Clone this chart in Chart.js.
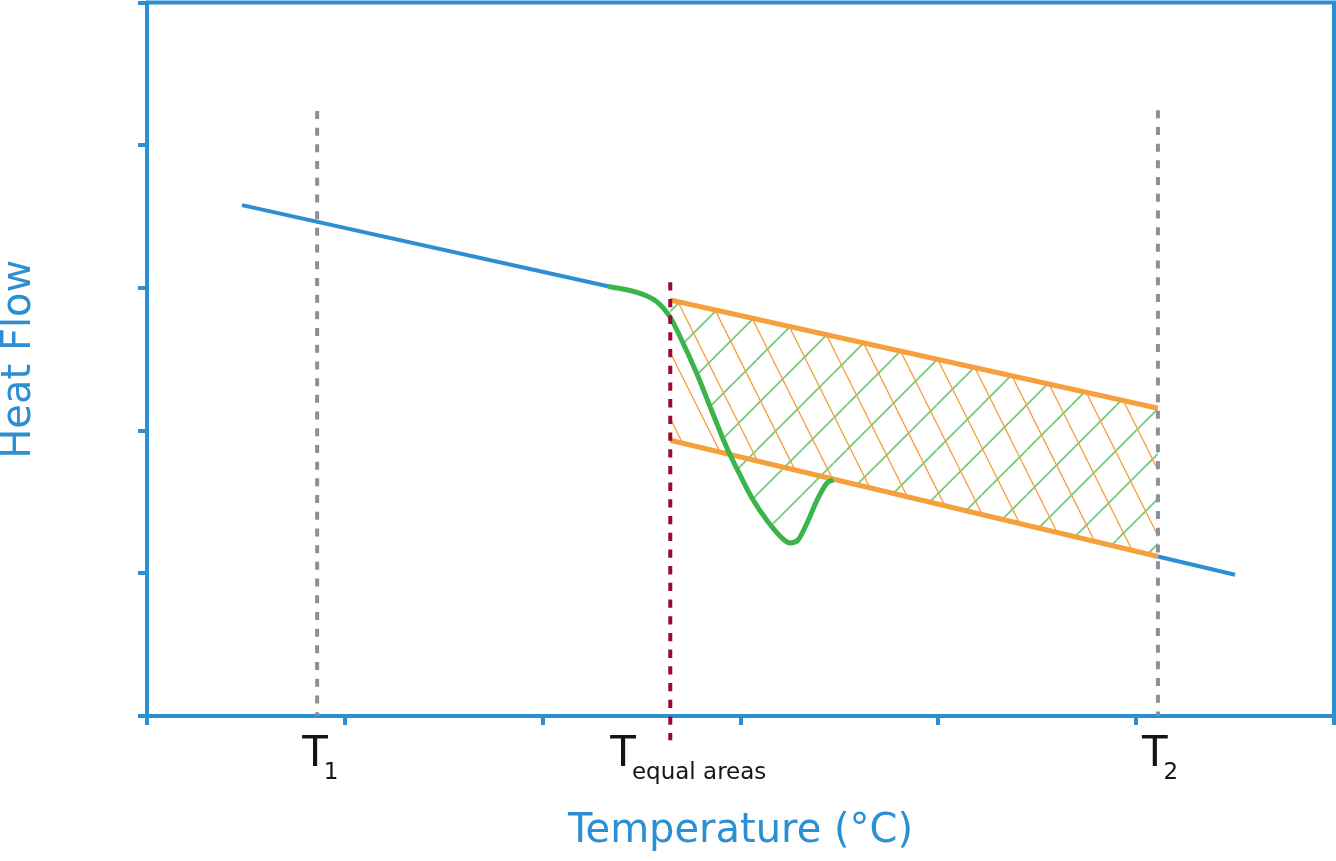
<!DOCTYPE html>
<html>
<head>
<meta charset="utf-8">
<script src="https://cdn.jsdelivr.net/npm/chart.js@4.4.1/dist/chart.umd.min.js"></script>
<style>
  html, body { margin: 0; padding: 0; background: #fff; }
  #wrap { width: 1336px; height: 861px; }
</style>
</head>
<body>
<div id="wrap"><canvas id="dscChart"></canvas></div>
<script>
// 基线（转变前）
const baseBeforeX = [9.6, 46.6];
const baseBeforeY = [71.6, 60.24];
// 基线（转变后）
const baseAfterX = [102.2, 110.0];
const baseAfterY = [22.35, 19.8];
// 外推基线
const extBeforeX = [52.9, 102.2];
const extBeforeY = [58.3, 43.13];
const extAfterX = [52.9, 102.2];
const extAfterY = [38.64, 22.35];
// 实测曲线
const curveX = [46.6, 49.84, 51.53, 52.87, 53.88, 55.6, 57.12, 58.63, 59.95, 61.16, 62.68, 64.3, 65.01, 65.82, 66.73, 67.74, 68.75, 69.38];
const curveY = [60.24, 59.24, 58.07, 55.92, 53.19, 47.93, 42.68, 37.56, 33.78, 30.55, 27.4, 24.81, 24.25, 24.67, 27.05, 30.27, 32.66, 33.08];
// 标记温度
const markerTemps = [17.2, 52.9, 102.2];
const markerTop = [84.8, 60.8, 84.9];
const markerBottom = [0, -3.4, 0];
const markerSubs = ['1', 'equal areas', '2'];

const BLUE = '#2b8fd1';
const GREEN = '#3bb44a';
const ORANGE = '#f6a03d';
const RED = '#9c0a34';
const GRAY = '#8c8e9b';

function pts(xs, ys) {
    return xs.map((x, i) => ({ x: x, y: ys[i] }));
}

// 斜线填充图案
function hatch(color, w, h, slopeDown, dx) {
    const c = document.createElement('canvas');
    c.width = w;
    c.height = h;
    const g = c.getContext('2d');
    g.strokeStyle = color;
    g.lineWidth = 1.3;
    for (let k = -1; k <= 1; k++) {
        g.beginPath();
        if (slopeDown) {
            g.moveTo(k * w, 0);
            g.lineTo(k * w + w, h);
        } else {
            g.moveTo(k * w, h);
            g.lineTo(k * w + w, 0);
        }
        g.stroke();
    }
    const p = g.createPattern(c, 'repeat');
    p.setTransform(new DOMMatrix([1, 0, 0, 1, dx, 0]));
    return p;
}

const orangeHatch = hatch(ORANGE, 33, 66, true, -1);
const greenHatch = hatch('#45b84f', 45, 45, false, 36.6);

// 曲线与外推基线之间的区域（两段）
const fillStart = curveX.indexOf(52.87);
const last = curveX.length - 1;
const fillCurve = pts(curveX.slice(fillStart), curveY.slice(fillStart));
const fillTail = [{ x: curveX[last], y: curveY[last] }, { x: extAfterX[1], y: extAfterY[1] }];

function vline(i) {
    return [{ x: markerTemps[i], y: markerTop[i] }, { x: markerTemps[i], y: markerBottom[i] }];
}

// 边框与温度标签
const framePlugin = {
    id: 'frame',
    afterDraw(chart) {
        const { ctx, chartArea: a, scales } = chart;
        ctx.save();
        ctx.strokeStyle = BLUE;
        ctx.lineWidth = 4;
        ctx.beginPath();
        ctx.moveTo(a.left - 2, a.top);
        ctx.lineTo(a.right, a.top);
        ctx.lineTo(a.right, a.bottom + 2);
        ctx.stroke();

        const shift = [-15, -60, -16];
        ctx.fillStyle = '#151515';
        ctx.textBaseline = 'alphabetic';
        ctx.textAlign = 'left';
        markerTemps.forEach((t, i) => {
            const x = scales.x.getPixelForValue(t) + shift[i];
            ctx.font = '42px "DejaVu Sans"';
            ctx.fillText('T', x, 766);
            const tw = ctx.measureText('T').width;
            ctx.font = '23px "DejaVu Sans"';
            ctx.fillText(markerSubs[i], x + tw - 4, 779);
        });
        ctx.restore();
    }
};

const ctx = document.getElementById('dscChart').getContext('2d');
new Chart(ctx, {
    type: 'line',
    data: {
        datasets: [
            {
                data: vline(1),
                borderColor: RED,
                borderWidth: 4,
                borderDash: [8.3, 8.4],
                clip: false
            },
            {
                data: pts(curveX, curveY),
                borderColor: GREEN,
                borderWidth: 5,
                cubicInterpolationMode: 'monotone'
            },
            {
                data: pts(extBeforeX, extBeforeY),
                borderColor: ORANGE,
                borderWidth: 5,
                backgroundColor: orangeHatch,
                fill: 3
            },
            {
                data: pts(extAfterX, extAfterY),
                borderColor: ORANGE,
                borderWidth: 5
            },
            {
                data: pts(baseBeforeX, baseBeforeY),
                borderColor: BLUE,
                borderWidth: 4
            },
            {
                data: pts(baseAfterX, baseAfterY),
                borderColor: BLUE,
                borderWidth: 4
            },
            {
                data: vline(0),
                borderColor: GRAY,
                borderWidth: 4,
                borderDash: [8, 8.7]
            },
            {
                data: vline(2),
                borderColor: GRAY,
                borderWidth: 4,
                borderDash: [8, 8.7]
            },
            {
                data: fillCurve,
                borderWidth: 0,
                cubicInterpolationMode: 'monotone',
                backgroundColor: greenHatch,
                fill: 2
            },
            {
                data: fillTail,
                borderColor: GREEN,
                borderWidth: 1.5,
                backgroundColor: greenHatch,
                fill: 2
            }
        ]
    },
    options: {
        responsive: true,
        maintainAspectRatio: false,
        animation: false,
        events: [],
        layout: {
            padding: { top: 2.5, right: 2, bottom: 0, left: 0 }
        },
        elements: {
            point: { radius: 0 },
            line: { borderCapStyle: 'butt' }
        },
        plugins: {
            legend: { display: false },
            tooltip: { enabled: false },
            filler: { drawTime: 'beforeDatasetsDraw' }
        },
        scales: {
            x: {
                type: 'linear',
                min: 0,
                max: 120,
                ticks: { stepSize: 20, display: false },
                grid: {
                    drawOnChartArea: false,
                    drawTicks: true,
                    tickLength: 9,
                    color: BLUE,
                    lineWidth: 4
                },
                border: { color: BLUE, width: 4 },
                title: {
                    display: true,
                    text: 'Temperature (°C)',
                    color: BLUE,
                    font: { family: 'DejaVu Sans', size: 40, lineHeight: 1 },
                    padding: { top: 0, bottom: 9 }
                },
                afterFit(scale) { scale.height = 145; }
            },
            y: {
                type: 'linear',
                min: 0,
                max: 100,
                ticks: { stepSize: 20, display: false },
                grid: {
                    drawOnChartArea: false,
                    drawTicks: true,
                    tickLength: 9,
                    color: BLUE,
                    lineWidth: 4
                },
                border: { color: BLUE, width: 4 },
                title: {
                    display: true,
                    text: 'Heat Flow',
                    color: BLUE,
                    font: { family: 'DejaVu Sans', size: 40, lineHeight: 1 },
                    padding: { top: 0, bottom: 0 }
                },
                afterFit(scale) { scale.width = 147; }
            }
        }
    },
    plugins: [framePlugin]
});
</script>
</body>
</html>
